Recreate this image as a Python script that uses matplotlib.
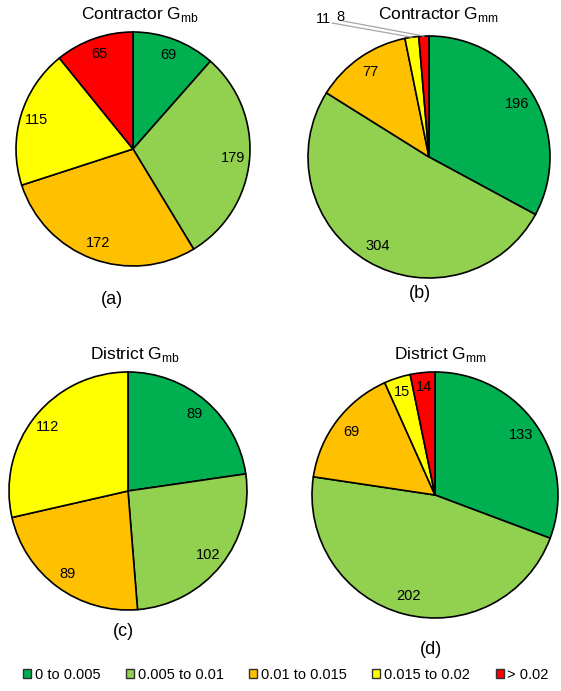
import numpy as np
import matplotlib.pyplot as plt
from matplotlib.patches import Patch

plt.rcParams['font.family'] = ['Liberation Sans', 'DejaVu Sans']

bins = ["0 to 0.005", "0.005 to 0.01", "0.01 to 0.015", "0.015 to 0.02", "> 0.02"]
colors = ["#00B050", "#92D050", "#FFC000", "#FFFF00", "#FF0000"]

contractor_gmb = [69, 179, 172, 115, 65]
contractor_gmm = [196, 304, 77, 11, 8]
district_gmb = [89, 102, 89, 112, 0]
district_gmm = [133, 202, 69, 15, 14]

W, H = 561, 691
fig = plt.figure(figsize=(W / 100, H / 100), dpi=100)


def pie_axes(cx, cy, r):
    # square axes in pixel units, unit circle fills it
    ax = fig.add_axes([(cx - r) / W, 1 - (cy + r) / H, 2 * r / W, 2 * r / H])
    ax.axis("off")
    return ax


def draw_pie(ax, values, label_r=0.85, skip=(), small_r=None):
    vals = np.array(values, dtype=float)
    keep = vals > 0
    wedges, _ = ax.pie(vals[keep], colors=np.array(colors)[keep], startangle=90,
                       counterclock=False, radius=1.0,
                       wedgeprops=dict(edgecolor="black", linewidth=1.2))
    ax.set_xlim(-1.0, 1.0)
    ax.set_ylim(-1.0, 1.0)
    for i, (w, v) in enumerate(zip(wedges, vals[keep])):
        if i in skip:
            continue
        rr = small_r if (small_r and i >= 3) else label_r
        ang = np.deg2rad((w.theta1 + w.theta2) / 2)
        ax.text(rr * np.cos(ang), rr * np.sin(ang), f"{int(v)}",
                ha="center", va="center", fontsize=10.5)
    return wedges


def label(x, y, s, size):
    fig.text(x / W, 1 - y / H, s, ha="center", va="center", fontsize=size)


# (a) contractor Gmb
ax = pie_axes(133, 149, 117)
draw_pie(ax, contractor_gmb, 0.86)
label(140, 15, r"Contractor G$_\mathregular{mb}$", 12.5)
label(112, 300, "(a)", 13)

# (b) contractor Gmm, the two thin slices get leader lines
ax = pie_axes(429, 157, 121)
wedges = draw_pie(ax, contractor_gmm, 0.85, skip=(3, 4))
lead = [((-0.876, 1.14), (-0.80, 1.107)), ((-0.735, 1.157), (-0.71, 1.124))]
for w, v, (txt, start) in zip(wedges[3:], contractor_gmm[3:], lead):
    ang = np.deg2rad((w.theta1 + w.theta2) / 2)
    ax.plot([start[0], np.cos(ang)], [start[1], np.sin(ang)],
            color="#A6A6A6", lw=0.9, clip_on=False)
    ax.text(txt[0], txt[1], f"{v}", ha="center", va="center", fontsize=10.5, clip_on=False)
label(439, 15, r"Contractor G$_\mathregular{mm}$", 12.5)
label(420, 294, "(b)", 13)

# (c) district Gmb
ax = pie_axes(128, 491, 119)
draw_pie(ax, district_gmb, 0.86)
label(135, 354, r"District G$_\mathregular{mb}$", 12.5)
label(123, 632, "(c)", 13)

# (d) district Gmm
ax = pie_axes(435, 495, 123)
draw_pie(ax, district_gmm, 0.85, small_r=0.88)
label(440, 355, r"District G$_\mathregular{mm}$", 12.5)
label(431, 650, "(d)", 13)

handles = [Patch(facecolor=c, edgecolor="#303030", linewidth=1.0) for c in colors]
fig.legend(handles, bins, loc="center", bbox_to_anchor=(286 / W, 1 - 675 / H), ncol=5,
           frameon=False, fontsize=10.5, handlelength=0.55, handleheight=0.55,
           handletextpad=0.25, columnspacing=1.75, borderaxespad=0)

fig.savefig("out.png", dpi=100, facecolor="white")
